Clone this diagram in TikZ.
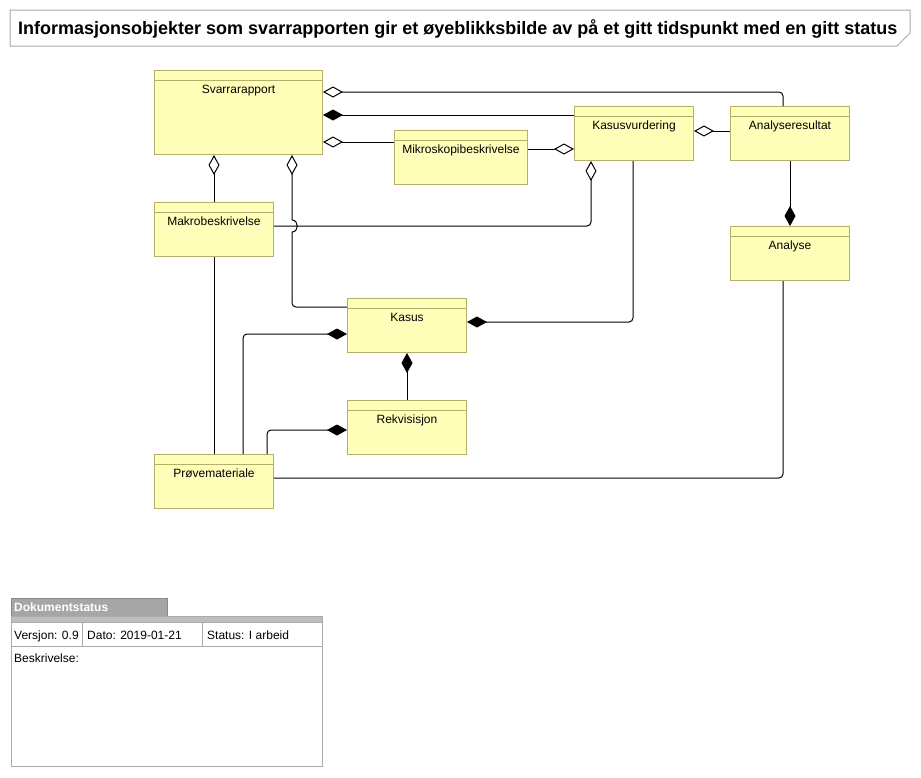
\documentclass[tikz,border=0pt]{standalone}
\usepackage{fontspec}
\setmainfont{Liberation Sans}
\usetikzlibrary{arrows.meta,calc}
\definecolor{boxfill}{RGB}{255,255,185}
\definecolor{boxdraw}{RGB}{181,176,103}
\definecolor{titledraw}{RGB}{170,170,170}
\definecolor{tabgray}{RGB}{166,166,166}
\definecolor{bandgray}{RGB}{190,190,190}
\definecolor{tblgray}{RGB}{170,170,170}
\tikzset{
  umlbox/.style={draw=boxdraw, fill=boxfill, line width=1pt, anchor=north west, inner sep=0pt, rectangle},
  lbl/.style={font=\fontsize{12}{14}\selectfont, anchor=base, inner sep=0pt},
  conn/.style={draw=black, line width=1pt, rounded corners=4pt},
  agg/.style={conn, {Diamond[open, length=20pt, width=11pt, line width=1pt]}-},
  comp/.style={conn, {Diamond[length=20pt, width=11pt]}-},
  tbltext/.style={font=\fontsize{12}{14}\selectfont, anchor=base west, inner sep=0pt},
}
\newcommand\umlclass[6]{%
  \node[umlbox, minimum width=#4pt, minimum height=#5pt] (#1) at (#2,#3) {};
  \draw[draw=boxdraw, line width=1pt] ([yshift=-10.5pt]#1.north west) -- ([yshift=-10.5pt]#1.north east);
  \node[lbl] (#1-name) at ([yshift=-23.5pt]#1.north) {#6};
}
\begin{document}
\begin{tikzpicture}[x=1pt,y=-1pt]
\useasboundingbox (0,0) rectangle (921,777);
\fill[white] (0,0) rectangle (921,777);

% title
\draw[titledraw, line width=1pt, fill=white] (10,10) -- (910,10) -- (910,33) -- (897,46) -- (10,46) -- cycle;
\node[font=\bfseries\fontsize{18}{21}\selectfont, anchor=west, inner sep=0pt] (title) at (18,28.5)
  {Informasjonsobjekter som svarrapporten gir et øyeblikksbilde av på et gitt tidspunkt med en gitt status};

% classes
\umlclass{svar}{154}{70}{168}{84}{Svarrarapport}
\umlclass{kv}{574}{106}{119}{54}{Kasusvurdering}
\umlclass{ar}{730}{106}{119}{54}{Analyseresultat}
\umlclass{mikro}{394}{130}{133}{54}{Mikroskopibeskrivelse}
\umlclass{makro}{154}{202}{119}{54}{Makrobeskrivelse}
\umlclass{analyse}{730}{226}{119}{54}{Analyse}
\umlclass{kasus}{347}{298}{119}{54}{Kasus}
\umlclass{rek}{347}{400}{119}{54}{Rekvisisjon}
\umlclass{prove}{154}{454}{119}{54}{Prøvemateriale}

% connectors
\draw[agg] (svar.east |- 0,92) -| (ar.north -| 783,0);
\draw[comp] (svar.east |- 0,115) -- (kv.west |- 0,115);
\draw[agg] (svar.east |- 0,142) -- (mikro.west |- 0,142);
\draw[agg] (kv.west |- 0,149) -- (mikro.east |- 0,149);
\draw[agg] (kv.east |- 0,131) -- (ar.west |- 0,131);
\draw[comp] (analyse.north -| 790,0) -- (ar.south -| 790,0);
\draw[agg] (svar.south -| 214,0) -- (makro.north -| 214,0);
\draw[agg, sharp corners] (svar.south -| 292,0) -- (292,220)
   .. controls +(7,0) and +(7,0) .. (292,232) [rounded corners=4pt] |- (kasus.west |- 0,307);
\draw[agg] (kv.south -| 591,0) |- (makro.east |- 0,226);
\draw[comp] (kasus.east |- 0,322) -| (kv.south -| 633,0);
\draw[comp] (kasus.south -| 407,0) -- (rek.north -| 407,0);
\draw[comp] (kasus.west |- 0,334) -| (prove.north -| 243,0);
\draw[comp] (rek.west |- 0,430) -| (prove.north -| 267,0);
\draw[conn] (makro.south -| 214,0) -- (prove.north -| 214,0);
\draw[conn] (analyse.south -| 783,0) |- (prove.east |- 0,478);

% document status
\fill[tabgray] (11,598) rectangle (167,616);
\draw[tblgray!80!black, line width=0.8pt] (11,616) -- (11,598) -- (167,598) -- (167,616);
\node[tbltext, font=\bfseries\fontsize{12}{14}\selectfont, text=white] (dstab) at (14,611) {Dokumentstatus};
\fill[bandgray] (11,616.5) rectangle (322,622.5);
\draw[tblgray, line width=1pt] (11,616.5) rectangle (322,766);
\draw[tblgray, line width=1pt] (11,622.5) -- (322,622.5);
\draw[tblgray, line width=1pt] (11,646.5) -- (322,646.5);
\draw[tblgray, line width=1pt] (82,622.5) -- (82,646.5);
\draw[tblgray, line width=1pt] (202,622.5) -- (202,646.5);
\node[tbltext] (ver) at (14,639) {Versjon: 0.9};
\node[tbltext] (dato) at (87,639) {Dato: 2019-01-21};
\node[tbltext] (stat) at (207,639) {Status: I arbeid};
\node[tbltext] (besk) at (14,662.5) {Beskrivelse:};
\end{tikzpicture}
\end{document}
